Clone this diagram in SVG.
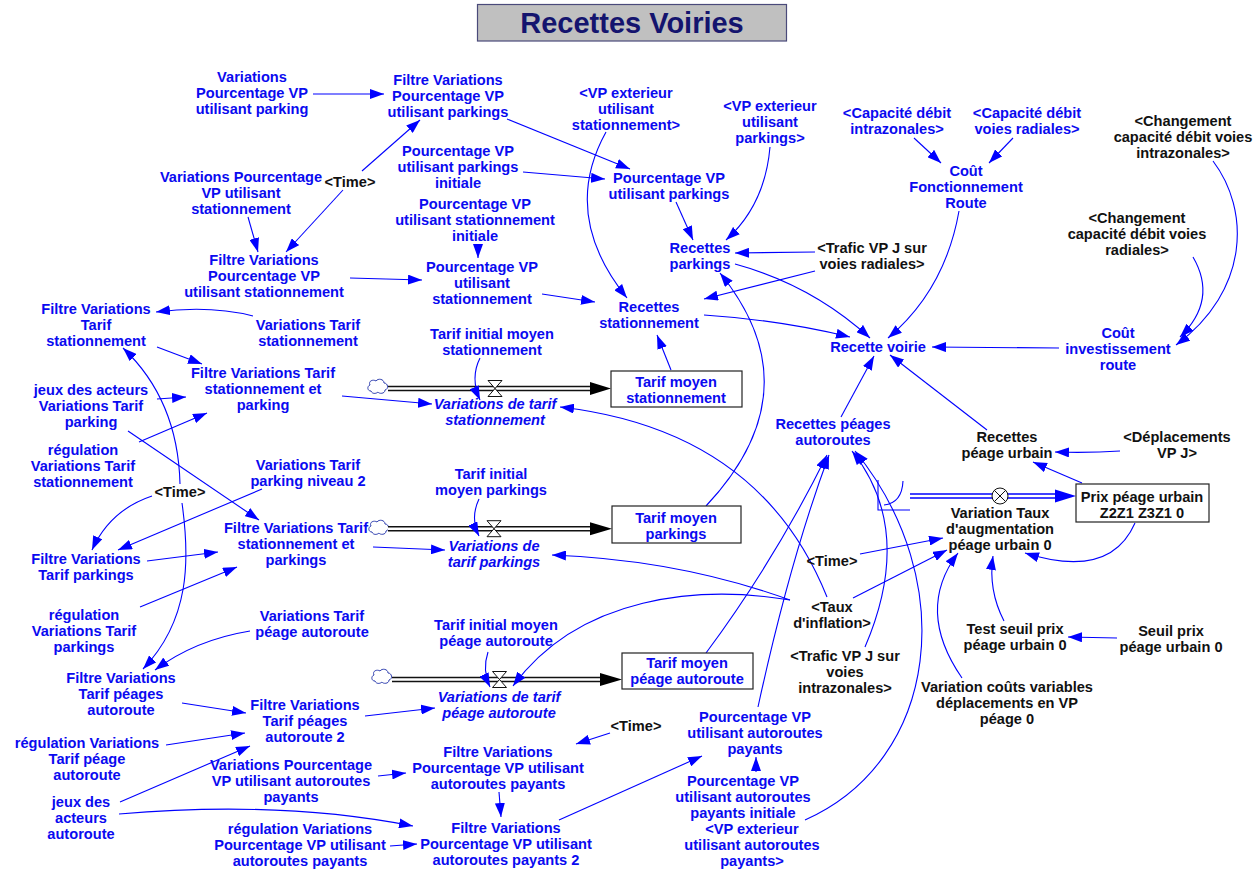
<svg xmlns="http://www.w3.org/2000/svg" width="1257" height="871" viewBox="0 0 1257 871">
<style>
.t{font-family:"Liberation Sans",Arial,sans-serif;font-weight:bold;font-size:14.6px;text-anchor:middle;fill:#0a0af0}
.k{fill:#111}
.i{font-style:italic}
.c{fill:none;stroke:#0000ff;stroke-width:1.1;marker-end:url(#ah)}
.stock{fill:#fff;stroke:#222;stroke-width:1.2}
.pipeo{fill:none;stroke:#111;stroke-width:5.5}
.pipei{fill:none;stroke:#fff;stroke-width:2.4}
.valve{fill:#fff;stroke:#111;stroke-width:1}
.cloud{fill:#fff;stroke:#3040b0;stroke-width:1}
</style>
<defs>
<marker id="ah" markerUnits="userSpaceOnUse" markerWidth="14" markerHeight="10" viewBox="0 0 14 10" refX="14" refY="5" orient="auto">
<path d="M0,0 L14,5 L0,10 Z" fill="#0000ff"/>
</marker>
<path id="cl" d="M-7,5 C-11,5 -11,0 -8,-1 C-10,-5 -5,-7 -2,-5 C0,-8 6,-7 6,-3 C10,-3 11,3 7,4 C7,8 1,8 0,6 C-2,8 -6,8 -7,5 Z"/>
<path id="vl" d="M-7,-8 H7 L-7,8 H7 Z"/>
</defs>
<rect width="1257" height="871" fill="#fff"/>

<!-- title -->
<g id="title">
<rect x="477.5" y="4.5" width="309" height="36.5" fill="#c0c0c0" stroke="#4a4a7a" stroke-width="1.2"/>
<text x="632" y="33" style="font-family:'Liberation Sans',Arial,sans-serif;font-weight:bold;font-size:29px;text-anchor:middle;fill:#14146e">Recettes Voiries</text>
</g>

<!-- flow pipes, valves, clouds -->
<g id="flows">
<use href="#cl" x="378" y="386" class="cloud"/>
<path class="pipeo" d="M388,388.5 H592"/><path class="pipei" d="M388,388.5 H592"/>
<polygon points="590,382 611,388.5 590,395" fill="#000"/>
<use href="#vl" x="495" y="388.5" class="valve"/>

<use href="#cl" x="379" y="527" class="cloud"/>
<path class="pipeo" d="M388,528.7 H592"/><path class="pipei" d="M388,528.7 H592"/>
<polygon points="590,522.2 612,528.7 590,535.2" fill="#000"/>
<use href="#vl" x="494" y="528.7" class="valve"/>

<use href="#cl" x="382" y="676" class="cloud"/>
<path class="pipeo" d="M392,679.5 H602"/><path class="pipei" d="M392,679.5 H602"/>
<polygon points="600,673 622,679.5 600,686" fill="#000"/>
<use href="#vl" x="499.5" y="679.5" class="valve"/>

<path d="M910,496 H1057" fill="none" stroke="#0000ff" stroke-width="5.5"/>
<path d="M910,496 H1057" fill="none" stroke="#fff" stroke-width="2.6"/>
<polygon points="1055,489.5 1076,496 1055,502.5" fill="#0000ff"/>
<circle cx="1000" cy="496" r="8" fill="#fff" stroke="#111" stroke-width="1"/>
<path d="M994.3,490.3 L1005.7,501.7 M1005.7,490.3 L994.3,501.7" stroke="#111" stroke-width="1"/>
<path d="M878,480 V510 H910 M903,481 Q902,503 884,505" fill="none" stroke="#0000ff" stroke-width="1.1"/>
</g>

<!-- connectors -->
<g id="connectors">
<path class="c" d="M313,94 L384,94"/>
<path class="c" d="M362,171 L420,120"/>
<path class="c" d="M343,190 L286,252"/>
<path class="c" d="M248,217 L258,252"/>
<path class="c" d="M350,278 L422,280"/>
<path class="c" d="M507,119 L630,169"/>
<path class="c" d="M523,172 L605,179"/>
<path class="c" d="M478,244 L478,258"/>
<path class="c" d="M542,294 L595,302"/>
<path class="c" d="M606,132 Q560,215 627,298"/>
<path class="c" d="M676,202 L693,240"/>
<path class="c" d="M770,147 Q765,205 726,240"/>
<path class="c" d="M815,252 L735,253"/>
<path class="c" d="M815,271 L704,299"/>
<path class="c" d="M735,264 Q812,285 870,338"/>
<path class="c" d="M704,315 Q780,320 850,337"/>
<path class="c" d="M706,506 Q815,390 720,273"/>
<path class="c" d="M671,370 L657,335"/>
<path class="c" d="M959,211 Q945,290 888,338"/>
<path class="c" d="M914,138 L941,163"/>
<path class="c" d="M1013,138 L989,163"/>
<path class="c" d="M1213,161 C1250,210 1250,290 1176,345"/>
<path class="c" d="M1193,257 Q1218,300 1180,337"/>
<path class="c" d="M1059,348 L932,347"/>
<path class="c" d="M841,417 L874,356"/>
<path class="c" d="M987,430 L890,355"/>
<path class="c" d="M1120,451 Q1090,453 1055,452"/>
<path class="c" d="M1082,483 L1033,462"/>
<path class="c" d="M1135,523 Q1110,580 1025,553"/>
<path class="c" d="M860,554 L943,538"/>
<path class="c" d="M853,598 L947,550"/>
<path class="c" d="M1004,621 Q988,590 993,556"/>
<path class="c" d="M1117,638 L1068,637"/>
<path class="c" d="M962,678 Q915,610 958,553"/>
<path class="c" d="M706,653 Q775,560 827,455"/>
<path class="c" d="M758,707 Q790,560 829,455"/>
<path class="c" d="M865,647 Q915,530 852,451"/>
<path class="c" d="M805,820 C940,760 960,580 855,451"/>
<path class="c" d="M827,597 Q760,430 560,407"/>
<path class="c" d="M790,600 Q680,560 552,555"/>
<path class="c" d="M790,600 C700,585 580,595 513,686"/>
<path class="c" d="M253,316 Q210,305 156,312"/>
<path class="c" d="M157,347 L202,364"/>
<path class="c" d="M157,399 L186,397"/>
<path class="c" d="M128,431 L259,520"/>
<path class="c" d="M139,442 L207,413"/>
<path class="c" d="M180,484 Q178,400 123,348"/>
<path class="c" d="M182,503 C190,560 190,620 143,669"/>
<path class="c" d="M152,496 Q110,510 92,550"/>
<path class="c" d="M262,489 L118,550"/>
<path class="c" d="M147,561 L218,552"/>
<path class="c" d="M140,607 L237,567"/>
<path class="c" d="M250,631 Q195,640 155,670"/>
<path class="c" d="M182,703 L246,713"/>
<path class="c" d="M166,745 L245,733"/>
<path class="c" d="M120,802 L250,746"/>
<path class="c" d="M119,814 Q280,800 413,826"/>
<path class="c" d="M390,846 L417,844"/>
<path class="c" d="M378,776 L406,773"/>
<path class="c" d="M610,733 L576,744"/>
<path class="c" d="M499,792 L501,817"/>
<path class="c" d="M559,820 L702,756"/>
<path class="c" d="M756,772 L756,757"/>
<path class="c" d="M342,396 L432,404"/>
<path class="c" d="M373,547 L445,550"/>
<path class="c" d="M365,716 L435,708"/>
<path class="c" d="M480,358 Q470,378 480,400"/>
<path class="c" d="M479,499 Q470,518 479,536"/>
<path class="c" d="M488,652 Q482,670 490,687"/>
</g>

<!-- stocks -->
<g id="stock_tarif_stationnement"><rect class="stock" x="611" y="371" width="131" height="36"/>
<text class="t" x="676" y="387">Tarif moyen<tspan x="676" dy="16.2">stationnement</tspan></text></g>
<g id="stock_tarif_parkings"><rect class="stock" x="612" y="506" width="129" height="37"/>
<text class="t" x="676" y="523">Tarif moyen<tspan x="676" dy="16.2">parkings</tspan></text></g>
<g id="stock_tarif_peage"><rect class="stock" x="622" y="653" width="131" height="36"/>
<text class="t" x="687" y="668">Tarif moyen<tspan x="687" dy="16.2">péage autoroute</tspan></text></g>
<g id="stock_prix_peage"><rect class="stock" x="1076" y="484" width="133" height="38"/>
<text class="t k" x="1142" y="502">Prix péage urbain<tspan x="1142" dy="16.2">Z2Z1 Z3Z1 0</tspan></text></g>

<!-- flow rates -->
<g id="flow_var_tarif_stat"><text class="t i" x="495" y="409">Variations de tarif<tspan x="495" dy="16.2">stationnement</tspan></text></g>
<g id="flow_var_tarif_park"><text class="t i" x="494" y="551">Variations de<tspan x="494" dy="16.2">tarif parkings</tspan></text></g>
<g id="flow_var_tarif_peage"><text class="t i" x="499" y="702">Variations de tarif<tspan x="499" dy="16.2">péage autoroute</tspan></text></g>
<g id="flow_var_taux"><text class="t k" x="1000" y="518">Variation Taux<tspan x="1000" dy="16.2">d'augmentation</tspan><tspan x="1000" dy="16.2">péage urbain 0</tspan></text></g>

<!-- auxiliaries -->
<g id="n_var_pct_parking"><text class="t" x="252" y="82">Variations<tspan x="252" dy="16.2">Pourcentage VP</tspan><tspan x="252" dy="16.2">utilisant parking</tspan></text></g>
<g id="n_filtre_pct_parkings"><text class="t" x="448" y="85">Filtre Variations<tspan x="448" dy="16.2">Pourcentage VP</tspan><tspan x="448" dy="16.2">utilisant parkings</tspan></text></g>
<g id="n_vp_ext_stat"><text class="t" x="626" y="98">&lt;VP exterieur<tspan x="626" dy="16.2">utilisant</tspan><tspan x="626" dy="16.2">stationnement&gt;</tspan></text></g>
<g id="n_vp_ext_park"><text class="t" x="770" y="111">&lt;VP exterieur<tspan x="770" dy="16.2">utilisant</tspan><tspan x="770" dy="16.2">parkings&gt;</tspan></text></g>
<g id="n_cap_intra"><text class="t" x="897" y="118">&lt;Capacité débit<tspan x="897" dy="16.2">intrazonales&gt;</tspan></text></g>
<g id="n_cap_rad"><text class="t" x="1027" y="118">&lt;Capacité débit<tspan x="1027" dy="16.2">voies radiales&gt;</tspan></text></g>
<g id="n_cout_fonct"><text class="t" x="966" y="176">Coût<tspan x="966" dy="16.2">Fonctionnement</tspan><tspan x="966" dy="16.2">Route</tspan></text></g>
<g id="n_chg_intra"><text class="t k" x="1183" y="126">&lt;Changement<tspan x="1183" dy="16.2">capacité débit voies</tspan><tspan x="1183" dy="16.2">intrazonales&gt;</tspan></text></g>
<g id="n_chg_rad"><text class="t k" x="1137" y="223">&lt;Changement<tspan x="1137" dy="16.2">capacité débit voies</tspan><tspan x="1137" dy="16.2">radiales&gt;</tspan></text></g>
<g id="n_var_pct_stat"><text class="t" x="241" y="182">Variations Pourcentage<tspan x="241" dy="16.2">VP utilisant</tspan><tspan x="241" dy="16.2">stationnement</tspan></text></g>
<g id="n_time_1"><text class="t k" x="350" y="187">&lt;Time&gt;</text></g>
<g id="n_pct_park_init"><text class="t" x="458" y="156">Pourcentage VP<tspan x="458" dy="16.2">utilisant parkings</tspan><tspan x="458" dy="16.2">initiale</tspan></text></g>
<g id="n_pct_park"><text class="t" x="669" y="183">Pourcentage VP<tspan x="669" dy="16.2">utilisant parkings</tspan></text></g>
<g id="n_pct_stat_init"><text class="t" x="475" y="209">Pourcentage VP<tspan x="475" dy="16.2">utilisant stationnement</tspan><tspan x="475" dy="16.2">initiale</tspan></text></g>
<g id="n_pct_stat"><text class="t" x="482" y="272">Pourcentage VP<tspan x="482" dy="16.2">utilisant</tspan><tspan x="482" dy="16.2">stationnement</tspan></text></g>
<g id="n_filtre_pct_stat"><text class="t" x="264" y="265">Filtre Variations<tspan x="264" dy="16.2">Pourcentage VP</tspan><tspan x="264" dy="16.2">utilisant stationnement</tspan></text></g>
<g id="n_rec_park"><text class="t" x="700" y="253">Recettes<tspan x="700" dy="16.2">parkings</tspan></text></g>
<g id="n_trafic_rad"><text class="t k" x="872" y="253">&lt;Trafic VP J sur<tspan x="872" dy="16.2">voies radiales&gt;</tspan></text></g>
<g id="n_rec_stat"><text class="t" x="649" y="312">Recettes<tspan x="649" dy="16.2">stationnement</tspan></text></g>
<g id="n_rec_voirie"><text class="t" x="878" y="352">Recette voirie</text></g>
<g id="n_cout_invest"><text class="t" x="1118" y="338">Coût<tspan x="1118" dy="16.2">investissement</tspan><tspan x="1118" dy="16.2">route</tspan></text></g>
<g id="n_filtre_tarif_stat"><text class="t" x="96" y="314">Filtre Variations<tspan x="96" dy="16.2">Tarif</tspan><tspan x="96" dy="16.2">stationnement</tspan></text></g>
<g id="n_var_tarif_stat"><text class="t" x="308" y="330">Variations Tarif<tspan x="308" dy="16.2">stationnement</tspan></text></g>
<g id="n_filtre_tarif_stat_park"><text class="t" x="263" y="378">Filtre Variations Tarif<tspan x="263" dy="16.2">stationnement et</tspan><tspan x="263" dy="16.2">parking</tspan></text></g>
<g id="n_jeux_park"><text class="t" x="91" y="395">jeux des acteurs<tspan x="91" dy="16.2">Variations Tarif</tspan><tspan x="91" dy="16.2">parking</tspan></text></g>
<g id="n_reg_tarif_stat"><text class="t" x="83" y="455">régulation<tspan x="83" dy="16.2">Variations Tarif</tspan><tspan x="83" dy="16.2">stationnement</tspan></text></g>
<g id="n_time_2"><text class="t k" x="180" y="497">&lt;Time&gt;</text></g>
<g id="n_var_tarif_park2"><text class="t" x="308" y="470">Variations Tarif<tspan x="308" dy="16.2">parking niveau 2</tspan></text></g>
<g id="n_filtre_tarif_park"><text class="t" x="86" y="564">Filtre Variations<tspan x="86" dy="16.2">Tarif parkings</tspan></text></g>
<g id="n_filtre_tarif_stat_parks"><text class="t" x="296" y="533">Filtre Variations Tarif<tspan x="296" dy="16.2">stationnement et</tspan><tspan x="296" dy="16.2">parkings</tspan></text></g>
<g id="n_reg_tarif_park"><text class="t" x="84" y="620">régulation<tspan x="84" dy="16.2">Variations Tarif</tspan><tspan x="84" dy="16.2">parkings</tspan></text></g>
<g id="n_var_tarif_peage"><text class="t" x="312" y="621">Variations Tarif<tspan x="312" dy="16.2">péage autoroute</tspan></text></g>
<g id="n_filtre_tarif_peage"><text class="t" x="121" y="683">Filtre Variations<tspan x="121" dy="16.2">Tarif péages</tspan><tspan x="121" dy="16.2">autoroute</tspan></text></g>
<g id="n_filtre_tarif_peage2"><text class="t" x="305" y="710">Filtre Variations<tspan x="305" dy="16.2">Tarif péages</tspan><tspan x="305" dy="16.2">autoroute 2</tspan></text></g>
<g id="n_reg_tarif_peage"><text class="t" x="87" y="748">régulation Variations<tspan x="87" dy="16.2">Tarif péage</tspan><tspan x="87" dy="16.2">autoroute</tspan></text></g>
<g id="n_var_pct_auto"><text class="t" x="291" y="770">Variations Pourcentage<tspan x="291" dy="16.2">VP utilisant autoroutes</tspan><tspan x="291" dy="16.2">payants</tspan></text></g>
<g id="n_jeux_auto"><text class="t" x="81" y="807">jeux des<tspan x="81" dy="16.2">acteurs</tspan><tspan x="81" dy="16.2">autoroute</tspan></text></g>
<g id="n_reg_pct_auto"><text class="t" x="300" y="834">régulation Variations<tspan x="300" dy="16.2">Pourcentage VP utilisant</tspan><tspan x="300" dy="16.2">autoroutes payants</tspan></text></g>
<g id="n_tarif_init_stat"><text class="t" x="492" y="339">Tarif initial moyen<tspan x="492" dy="16.2">stationnement</tspan></text></g>
<g id="n_tarif_init_park"><text class="t" x="491" y="479">Tarif initial<tspan x="491" dy="16.2">moyen parkings</tspan></text></g>
<g id="n_tarif_init_peage"><text class="t" x="496" y="630">Tarif initial moyen<tspan x="496" dy="16.2">péage autoroute</tspan></text></g>
<g id="n_time_3"><text class="t k" x="636" y="731">&lt;Time&gt;</text></g>
<g id="n_filtre_pct_auto"><text class="t" x="498" y="757">Filtre Variations<tspan x="498" dy="16.2">Pourcentage VP utilisant</tspan><tspan x="498" dy="16.2">autoroutes payants</tspan></text></g>
<g id="n_filtre_pct_auto2"><text class="t" x="506" y="833">Filtre Variations<tspan x="506" dy="16.2">Pourcentage VP utilisant</tspan><tspan x="506" dy="16.2">autoroutes payants 2</tspan></text></g>
<g id="n_pct_auto"><text class="t" x="755" y="722">Pourcentage VP<tspan x="755" dy="16.2">utilisant autoroutes</tspan><tspan x="755" dy="16.2">payants</tspan></text></g>
<g id="n_pct_auto_init"><text class="t" x="743" y="786">Pourcentage VP<tspan x="743" dy="16.2">utilisant autoroutes</tspan><tspan x="743" dy="16.2">payants initiale</tspan></text></g>
<g id="n_vp_ext_auto"><text class="t" x="752" y="834">&lt;VP exterieur<tspan x="752" dy="16.2">utilisant autoroutes</tspan><tspan x="752" dy="16.2">payants&gt;</tspan></text></g>
<g id="n_rec_peages"><text class="t" x="833" y="429">Recettes péages<tspan x="833" dy="16.2">autoroutes</tspan></text></g>
<g id="n_time_4"><text class="t k" x="832" y="566">&lt;Time&gt;</text></g>
<g id="n_taux_inflation"><text class="t k" x="832" y="612">&lt;Taux<tspan x="832" dy="16.2">d'inflation&gt;</tspan></text></g>
<g id="n_trafic_intra"><text class="t k" x="845" y="661">&lt;Trafic VP J sur<tspan x="845" dy="16.2">voies</tspan><tspan x="845" dy="16.2">intrazonales&gt;</tspan></text></g>
<g id="n_rec_peage_urbain"><text class="t k" x="1007" y="442">Recettes<tspan x="1007" dy="16.2">péage urbain</tspan></text></g>
<g id="n_deplacements"><text class="t k" x="1177" y="442">&lt;Déplacements<tspan x="1177" dy="16.2">VP J&gt;</tspan></text></g>
<g id="n_test_seuil"><text class="t k" x="1015" y="634">Test seuil prix<tspan x="1015" dy="16.2">péage urbain 0</tspan></text></g>
<g id="n_seuil"><text class="t k" x="1171" y="636">Seuil prix<tspan x="1171" dy="16.2">péage urbain 0</tspan></text></g>
<g id="n_var_couts"><text class="t k" x="1007" y="692">Variation coûts variables<tspan x="1007" dy="16.2">déplacements en VP</tspan><tspan x="1007" dy="16.2">péage 0</tspan></text></g>
</svg>
